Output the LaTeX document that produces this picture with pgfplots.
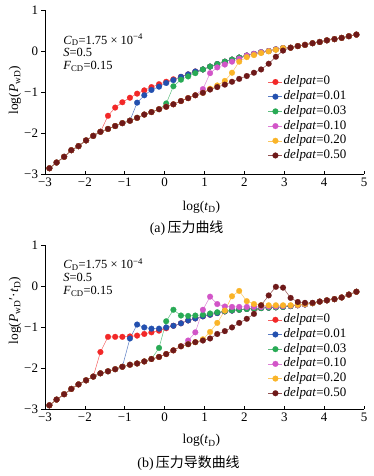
\documentclass[border=0pt]{standalone}
\usepackage{fontspec}
\setmainfont{Liberation Serif}
\newfontfamily\cjk{Noto Sans CJK SC}
\usepackage{pgfplots}
\usepackage{pgfplotstable}
\pgfplotsset{compat=1.18}
\definecolor{cR}{RGB}{242,40,40}
\definecolor{cB}{RGB}{35,80,175}
\definecolor{cG}{RGB}{40,170,85}
\definecolor{cP}{RGB}{210,85,200}
\definecolor{cO}{RGB}{250,180,40}
\definecolor{cK}{RGB}{110,25,25}

\pgfplotstableread{
x r b g p o k
-2.89 -2.86 -2.86 -2.86 -2.86 -2.86 -2.86
-2.71 -2.72 -2.72 -2.72 -2.72 -2.72 -2.72
-2.52 -2.58 -2.58 -2.58 -2.58 -2.58 -2.58
-2.34 -2.42 -2.42 -2.42 -2.42 -2.42 -2.42
-2.16 -2.32 -2.32 -2.32 -2.32 -2.32 -2.32
-1.97 -2.18 -2.18 -2.18 -2.18 -2.18 -2.18
-1.79 -2.07 -2.07 -2.07 -2.07 -2.07 -2.07
-1.61 -1.97 -1.97 -1.97 -1.97 -1.97 -1.97
-1.42 -1.58 -1.90 -1.90 -1.90 -1.90 -1.90
-1.24 -1.38 -1.83 -1.83 -1.83 -1.83 -1.83
-1.06 -1.25 -1.76 -1.76 -1.76 -1.76 -1.76
-0.87 -1.14 -1.70 -1.70 -1.70 -1.70 -1.70
-0.69 -1.04 -1.26 -1.63 -1.63 -1.63 -1.63
-0.51 -0.96 -1.08 -1.55 -1.55 -1.55 -1.55
-0.33 -0.88 -0.95 -1.49 -1.49 -1.49 -1.49
-0.14 -0.81 -0.87 -1.42 -1.42 -1.42 -1.42
0.04 -0.75 -0.78 -1.28 -1.36 -1.36 -1.36
0.22 -0.69 -0.71 -0.86 -1.30 -1.30 -1.30
0.41 -0.63 -0.63 -0.70 -1.22 -1.22 -1.22
0.59 -0.57 -0.57 -0.62 -1.15 -1.15 -1.15
0.77 -0.50 -0.50 -0.54 -1.08 -1.08 -1.08
0.96 -0.45 -0.45 -0.45 -0.93 -1.02 -1.02
1.14 -0.38 -0.38 -0.38 -0.54 -0.92 -0.94
1.32 -0.32 -0.32 -0.32 -0.40 -0.84 -0.88
1.51 -0.26 -0.26 -0.26 -0.33 -0.73 -0.82
1.69 -0.21 -0.21 -0.21 -0.26 -0.53 -0.75
1.87 -0.16 -0.16 -0.16 -0.19 -0.26 -0.68
2.06 -0.11 -0.11 -0.11 -0.11 -0.15 -0.61
2.24 -0.07 -0.07 -0.07 -0.07 -0.10 -0.53
2.42 -0.03 -0.03 -0.03 -0.03 -0.05 -0.45
2.61 0.00 0.00 0.00 0.00 -0.01 -0.31
2.79 0.04 0.04 0.04 0.04 0.03 -0.14
2.97 0.07 0.07 0.07 0.07 0.07 0.01
3.16 0.08 0.08 0.08 0.08 0.08 0.08
3.34 0.12 0.12 0.12 0.12 0.12 0.12
3.52 0.15 0.15 0.15 0.15 0.15 0.15
3.71 0.19 0.19 0.19 0.19 0.19 0.19
3.89 0.22 0.22 0.22 0.22 0.22 0.22
4.07 0.26 0.26 0.26 0.26 0.26 0.26
4.26 0.29 0.29 0.29 0.29 0.29 0.29
4.44 0.32 0.32 0.32 0.32 0.32 0.32
4.62 0.36 0.36 0.36 0.36 0.36 0.36
4.81 0.40 0.40 0.40 0.40 0.40 0.40
}\tabA

\pgfplotstableread{
x r b g p o k
-2.89 -2.91 -2.91 -2.91 -2.91 -2.91 -2.91
-2.71 -2.77 -2.77 -2.77 -2.77 -2.77 -2.77
-2.52 -2.64 -2.64 -2.64 -2.64 -2.64 -2.64
-2.34 -2.51 -2.51 -2.51 -2.51 -2.51 -2.51
-2.16 -2.40 -2.40 -2.40 -2.40 -2.40 -2.40
-1.97 -2.30 -2.30 -2.30 -2.30 -2.30 -2.30
-1.79 -2.21 -2.21 -2.21 -2.21 -2.21 -2.21
-1.61 -1.61 -2.13 -2.13 -2.13 -2.13 -2.13
-1.42 -1.24 -2.08 -2.08 -2.08 -2.08 -2.08
-1.24 -1.24 -2.03 -2.03 -2.03 -2.03 -2.03
-1.06 -1.24 -1.97 -1.97 -1.97 -1.97 -1.97
-0.87 -1.23 -1.28 -1.92 -1.92 -1.92 -1.92
-0.69 -1.21 -0.94 -1.89 -1.89 -1.89 -1.89
-0.51 -1.17 -1.01 -1.84 -1.84 -1.84 -1.84
-0.33 -1.13 -1.04 -1.78 -1.78 -1.78 -1.78
-0.14 -1.09 -1.04 -1.51 -1.73 -1.73 -1.73
0.04 -1.03 -1.01 -0.86 -1.66 -1.66 -1.66
0.22 -0.97 -0.97 -0.58 -1.57 -1.57 -1.57
0.41 -0.91 -0.91 -0.72 -1.47 -1.47 -1.47
0.59 -0.84 -0.84 -0.73 -1.33 -1.42 -1.42
0.77 -0.79 -0.79 -0.72 -1.13 -1.37 -1.37
0.96 -0.74 -0.74 -0.70 -0.58 -1.30 -1.33
1.14 -0.70 -0.70 -0.67 -0.26 -1.12 -1.28
1.32 -0.66 -0.66 -0.64 -0.44 -0.90 -1.17
1.51 -0.62 -0.62 -0.61 -0.50 -0.60 -1.10
1.69 -0.60 -0.60 -0.59 -0.51 -0.25 -1.01
1.87 -0.58 -0.58 -0.58 -0.51 -0.12 -0.90
2.06 -0.56 -0.56 -0.56 -0.51 -0.37 -0.80
2.24 -0.55 -0.55 -0.55 -0.51 -0.44 -0.68
2.42 -0.54 -0.54 -0.54 -0.51 -0.47 -0.47
2.61 -0.53 -0.53 -0.53 -0.50 -0.47 -0.23
2.79 -0.52 -0.52 -0.52 -0.50 -0.47 -0.02
2.97 -0.51 -0.51 -0.51 -0.49 -0.47 -0.04
3.16 -0.49 -0.49 -0.49 -0.48 -0.47 -0.29
3.34 -0.47 -0.47 -0.47 -0.47 -0.46 -0.39
3.52 -0.45 -0.45 -0.45 -0.45 -0.44 -0.41
3.71 -0.42 -0.42 -0.42 -0.42 -0.42 -0.41
3.89 -0.38 -0.38 -0.38 -0.38 -0.38 -0.38
4.07 -0.35 -0.35 -0.35 -0.35 -0.35 -0.35
4.26 -0.32 -0.32 -0.32 -0.32 -0.32 -0.32
4.44 -0.28 -0.28 -0.28 -0.28 -0.28 -0.28
4.62 -0.21 -0.21 -0.21 -0.21 -0.21 -0.21
4.81 -0.14 -0.14 -0.14 -0.14 -0.14 -0.14
}\tabB

\tikzset{ann/.style={anchor=west, font=\fontsize{12.5}{14}\selectfont, inner sep=0pt}}
\pgfplotsset{
  myax/.style={
    width=319bp, height=164bp, scale only axis, clip=false,
    xmin=-3, xmax=5, ymin=-3, ymax=1,
    axis x line*=bottom, axis y line*=left,
    xtick={-3,-2,-1,0,1,2,3,4,5},
    xticklabels={−3,−2,−1,0,1,2,3,4,5},
    ytick={-3,-2,-1,0,1},
    yticklabels={−3,−2,−1,0,1},
    xtick align=inside, ytick align=outside,
    major tick length=3.5bp,
    tick style={black, line width=0.6pt},
    axis line style={black, line width=0.6pt},
    tick label style={font=\fontsize{13}{15}\selectfont},
    label style={font=\fontsize{13.5}{15}\selectfont},
    legend style={draw=none, fill=none, anchor=north west, inner sep=0pt,
      font=\fontsize{13}{15}\selectfont, row sep=0.7bp,
      nodes={inner sep=1bp, text height=9bp, text depth=3bp}},
    legend cell align=left,
    legend image code/.code={\draw[mark repeat=2,mark phase=2,##1] plot coordinates {(0bp,0bp) (7bp,0bp) (14bp,0bp)};},
  },
  ser/.style={color=#1!75, line width=0.5pt, mark=*, mark size=2.9pt, mark options={fill=#1, draw=#1, line width=0.2pt}},
}

\begin{document}
\begin{tikzpicture}
\useasboundingbox (-45bp,-302bp) rectangle (329bp,174bp);
\begin{axis}[myax,
  xlabel={log(\textit{t}\textsubscript{D})},
  ylabel={log(\textit{P}\textsubscript{wD})},
  xlabel style={at={(axis description cs:0.49,-0.2)}, anchor=center},
  ylabel style={at={(axis description cs:-0.094,0.51)}, anchor=center},
  legend style={at={(axis description cs:0.699,0.605)}},
]
\addplot[ser=cR] table[x=x,y=r]{\tabA};
\addplot[ser=cB] table[x=x,y=b]{\tabA};
\addplot[ser=cG] table[x=x,y=g]{\tabA};
\addplot[ser=cP] table[x=x,y=p]{\tabA};
\addplot[ser=cO] table[x=x,y=o]{\tabA};
\addplot[ser=cK] table[x=x,y=k]{\tabA};
\legend{\textit{delpat}=0,\textit{delpat}=0.01,\textit{delpat}=0.03,\textit{delpat}=0.10,\textit{delpat}=0.20,\textit{delpat}=0.50}
\node[ann] at (axis description cs:0.057,0.817) {\textit{C}\textsubscript{D}=1.75 × 10\textsuperscript{−4}};
\node[ann] at (axis description cs:0.057,0.74) {\textit{S}=0.5};
\node[ann] at (axis description cs:0.057,0.654) {\textit{F}\textsubscript{CD}=0.15};
\node[font=\fontsize{14}{16}\selectfont] at (axis description cs:0.444,-0.33) {(a)\,{\cjk 压力曲线}};
\end{axis}

\begin{axis}[myax, at={(0,-235bp)},
  xlabel={log(\textit{t}\textsubscript{D})},
  ylabel={log(\textit{P}\textsubscript{wD}′·\textit{t}\textsubscript{D})},
  xlabel style={at={(axis description cs:0.49,-0.193)}, anchor=center},
  ylabel style={at={(axis description cs:-0.094,0.6)}, anchor=center},
  legend style={at={(axis description cs:0.699,0.588)}},
]
\addplot[ser=cR] table[x=x,y=r]{\tabB};
\addplot[ser=cB] table[x=x,y=b]{\tabB};
\addplot[ser=cG] table[x=x,y=g]{\tabB};
\addplot[ser=cP] table[x=x,y=p]{\tabB};
\addplot[ser=cO] table[x=x,y=o]{\tabB};
\addplot[ser=cK] table[x=x,y=k]{\tabB};
\legend{\textit{delpat}=0,\textit{delpat}=0.01,\textit{delpat}=0.03,\textit{delpat}=0.10,\textit{delpat}=0.20,\textit{delpat}=0.50}
\node[ann] at (axis description cs:0.057,0.879) {\textit{C}\textsubscript{D}=1.75 × 10\textsuperscript{−4}};
\node[ann] at (axis description cs:0.057,0.803) {\textit{S}=0.5};
\node[ann] at (axis description cs:0.057,0.716) {\textit{F}\textsubscript{CD}=0.15};
\node[font=\fontsize{14}{16}\selectfont] at (axis description cs:0.45,-0.331) {(b)\,{\cjk 压力导数曲线}};
\end{axis}
\end{tikzpicture}
\end{document}
